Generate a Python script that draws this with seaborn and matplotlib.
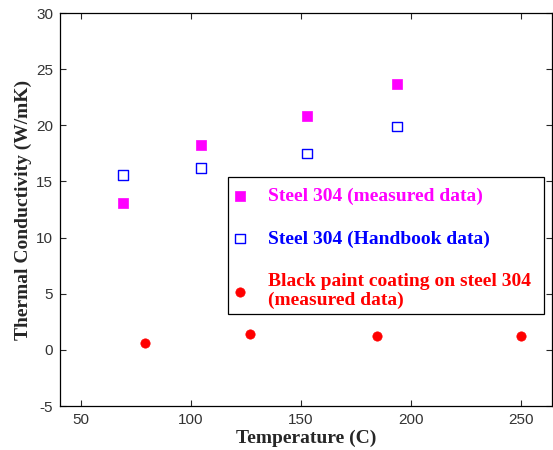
import numpy as np
import pandas as pd
import matplotlib
matplotlib.use("Agg")
import matplotlib.pyplot as plt
from matplotlib.patches import Rectangle
import seaborn as sns

# data
temp_measured = [69, 104.5, 152.7, 193.6]
k_measured = [13.1, 18.2, 20.8, 23.7]

temp_handbook = [69, 104.5, 152.7, 193.6]
k_handbook = [15.6, 16.2, 17.5, 19.9]

temp_paint = [79, 126.8, 184.5, 250]
k_paint = [0.62, 1.4, 1.25, 1.2]

labels = ["Steel 304 (measured data)",
          "Steel 304 (Handbook data)",
          "Black paint coating on steel 304\n(measured data)"]

sns.set_style("ticks")
plt.rcParams["font.family"] = ["Liberation Sans", "DejaVu Sans"]
plt.rcParams["axes.unicode_minus"] = False

fig = plt.figure(figsize=(5.53, 4.5), dpi=100)
ax = fig.add_axes([60 / 553, 44 / 450, 492 / 553, 393 / 450])

df1 = pd.DataFrame({"T": temp_measured, "k": k_measured})
df2 = pd.DataFrame({"T": temp_handbook, "k": k_handbook})
df3 = pd.DataFrame({"T": temp_paint, "k": k_paint})

sns.scatterplot(data=df1, x="T", y="k", ax=ax, marker="s", s=58,
                color="#ff00ff", edgecolor="#ff00ff", linewidth=0.5, label=labels[0])
sns.scatterplot(data=df2, x="T", y="k", ax=ax, marker="s", s=48,
                facecolors="none", edgecolor="#0000ff", linewidth=1.0, label=labels[1])
sns.scatterplot(data=df3, x="T", y="k", ax=ax, marker="o", s=45,
                color="#ff0000", edgecolor="#ff0000", linewidth=0.5, label=labels[2])

ax.set_xlim(40.5, 264)
ax.set_ylim(-5, 30)
ax.set_xticks([50, 100, 150, 200, 250])
ax.set_yticks([-5, 0, 5, 10, 15, 20, 25, 30])
ax.tick_params(direction="in", top=True, right=True, length=4, width=0.8,
               labelsize=11, labelcolor="#333333", pad=5)
for s in ax.spines.values():
    s.set_linewidth(0.9)
    s.set_color("black")

ax.set_xlabel("Temperature (C)", family="Liberation Serif", fontweight="bold",
              fontsize=14, labelpad=2)
ax.set_ylabel("Thermal Conductivity (W/mK)", family="Liberation Serif",
              fontweight="bold", fontsize=14, labelpad=3)

# legend box drawn separately so the padding matches the original
ax.add_patch(Rectangle((0.3415, 0.234), 0.642, 0.3486, transform=ax.transAxes,
                       facecolor="white", edgecolor="black", linewidth=0.9,
                       zorder=4))
leg = ax.legend(loc="upper left", bbox_to_anchor=(0.3496, 0.557),
                borderaxespad=0, frameon=False, labelspacing=1.3,
                handletextpad=1.06, borderpad=0, handlelength=0.8,
                prop={"family": "Liberation Serif", "weight": "bold", "size": 14},
                labelcolor=["#ff00ff", "#0000ff", "#ff0000"])
leg.set_zorder(5)
for t in leg.get_texts():
    t.set_linespacing(1.1)

fig.savefig("out.png", dpi=100)
